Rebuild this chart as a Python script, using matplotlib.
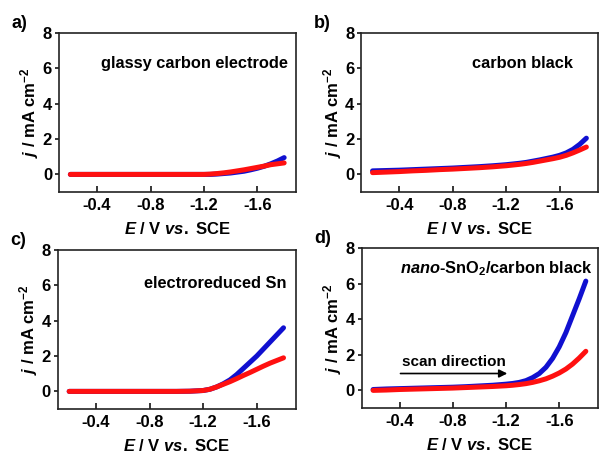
import matplotlib.pyplot as plt
import numpy as np

plt.rcParams.update({
    "font.family": ["Liberation Sans", "DejaVu Sans"],
    "font.weight": "bold",
    "axes.labelweight": "bold",
    "font.size": 10,
    "axes.linewidth": 1.2,
    "axes.edgecolor": "#222222",
    "mathtext.fontset": "custom",
    "mathtext.rm": "Liberation Sans:bold",
    "mathtext.bf": "Liberation Sans:bold",
    "mathtext.it": "Liberation Sans:italic:bold",
    "mathtext.default": "rm",
})

# potential (V vs. SCE)
E = [-0.2, -0.3, -0.4, -0.5, -0.6, -0.7, -0.8, -0.9, -1.0, -1.1, -1.2,
     -1.25, -1.3, -1.35, -1.4, -1.45, -1.5, -1.55, -1.6, -1.65, -1.7, -1.75, -1.8]

# current density (mA cm^-2), blue = first series, red = second series
gc_blue = [0, 0, 0, 0, 0, 0, 0, 0, 0, 0, 0.0,
           0.0, 0.02, 0.05, 0.08, 0.13, 0.18, 0.26, 0.35, 0.46, 0.6, 0.76, 0.95]
gc_red = [0, 0, 0, 0, 0, 0, 0, 0, 0, 0, 0.0,
          0.02, 0.05, 0.09, 0.14, 0.2, 0.26, 0.33, 0.4, 0.47, 0.55, 0.6, 0.65]

cb_blue = [0.2, 0.22, 0.24, 0.27, 0.3, 0.33, 0.36, 0.4, 0.44, 0.49, 0.55,
           0.59, 0.63, 0.68, 0.75, 0.82, 0.9, 0.98, 1.08, 1.22, 1.42, 1.7, 2.05]
cb_red = [0.1, 0.13, 0.16, 0.2, 0.23, 0.27, 0.3, 0.34, 0.38, 0.43, 0.49,
          0.53, 0.57, 0.62, 0.68, 0.75, 0.82, 0.89, 0.97, 1.08, 1.22, 1.38, 1.55]

sn_blue = [0, 0, 0, 0, 0, 0, 0, 0, 0, 0.01, 0.05,
           0.12, 0.25, 0.43, 0.65, 0.95, 1.3, 1.65, 2.0, 2.4, 2.8, 3.2, 3.6]
sn_red = [0, 0, 0, 0, 0, 0, 0, 0, 0, 0.01, 0.05,
          0.12, 0.25, 0.4, 0.55, 0.72, 0.9, 1.07, 1.25, 1.43, 1.6, 1.75, 1.9]

sno2_blue = [0.05, 0.08, 0.1, 0.12, 0.14, 0.16, 0.18, 0.21, 0.25, 0.29, 0.35,
             0.39, 0.45, 0.55, 0.72, 0.95, 1.3, 1.8, 2.45, 3.25, 4.2, 5.15, 6.15]
sno2_red = [0.0, 0.02, 0.05, 0.07, 0.09, 0.11, 0.13, 0.16, 0.19, 0.22, 0.26,
            0.29, 0.33, 0.38, 0.45, 0.54, 0.65, 0.8, 0.98, 1.2, 1.48, 1.82, 2.2]

panels = [
    ("a)", "glassy carbon electrode", gc_blue, gc_red),
    ("b)", "carbon black", cb_blue, cb_red),
    ("c)", "electroreduced Sn", sn_blue, sn_red),
    ("d)", r"$\it{nano}$-SnO$_2$/carbon black", sno2_blue, sno2_red),
]

# axes rectangles in figure fractions
rects = [
    [0.098, 0.576, 0.394, 0.351],
    [0.600, 0.576, 0.394, 0.351],
    [0.096, 0.097, 0.395, 0.351],
    [0.601, 0.099, 0.392, 0.353],
]
label_pos = [(0.965, 0.81), (0.895, 0.81), (0.962, 0.79), (0.98, 0.87)]

fig = plt.figure(figsize=(6.02, 4.53), dpi=100)

for (tag, name, blue, red), rect, lp in zip(panels, rects, label_pos):
    ax = fig.add_axes(rect)
    ax.plot(E, blue, color="#1010d0", lw=3.6, solid_capstyle="round")
    ax.plot(E, red, color="#ff1010", lw=3.6, solid_capstyle="round")
    ax.set_xlim(-0.115, -1.89)
    ax.set_ylim(-1, 8)
    ax.set_xticks([-0.4, -0.8, -1.2, -1.6])
    ax.set_xticklabels(["-0.4", "-0.8", "-1.2", "-1.6"])
    ax.set_yticks([0, 2, 4, 6, 8])
    ax.tick_params(axis="x", direction="in", length=4, width=1.1, labelsize=12, pad=4)
    ax.tick_params(axis="y", direction="out", length=3, width=1.1, labelsize=12, pad=2)
    ax.set_xlabel(r"$\it{E}$ / V $\it{vs.}$ SCE", fontsize=12, labelpad=6)
    ax.set_ylabel(r"$\it{j}$ / mA cm$^{-2}$", fontsize=12, labelpad=1)
    ax.text(lp[0], lp[1], name, transform=ax.transAxes, ha="right", va="center",
            fontsize=11.8, fontweight="bold")
    ax.text(-0.2, 1.06, tag, transform=ax.transAxes, ha="left", va="center",
            fontsize=13, fontweight="bold")
    if tag == "d)":
        ax.annotate("", xy=(-1.23, 0.95), xytext=(-0.385, 0.95),
                    arrowprops=dict(arrowstyle="-|>", color="black", lw=1.2,
                                    mutation_scale=12))
        ax.text(-0.81, 1.6, "scan direction", ha="center", va="center",
                fontsize=11, fontweight="bold")

fig.savefig("out.png", dpi=100)
